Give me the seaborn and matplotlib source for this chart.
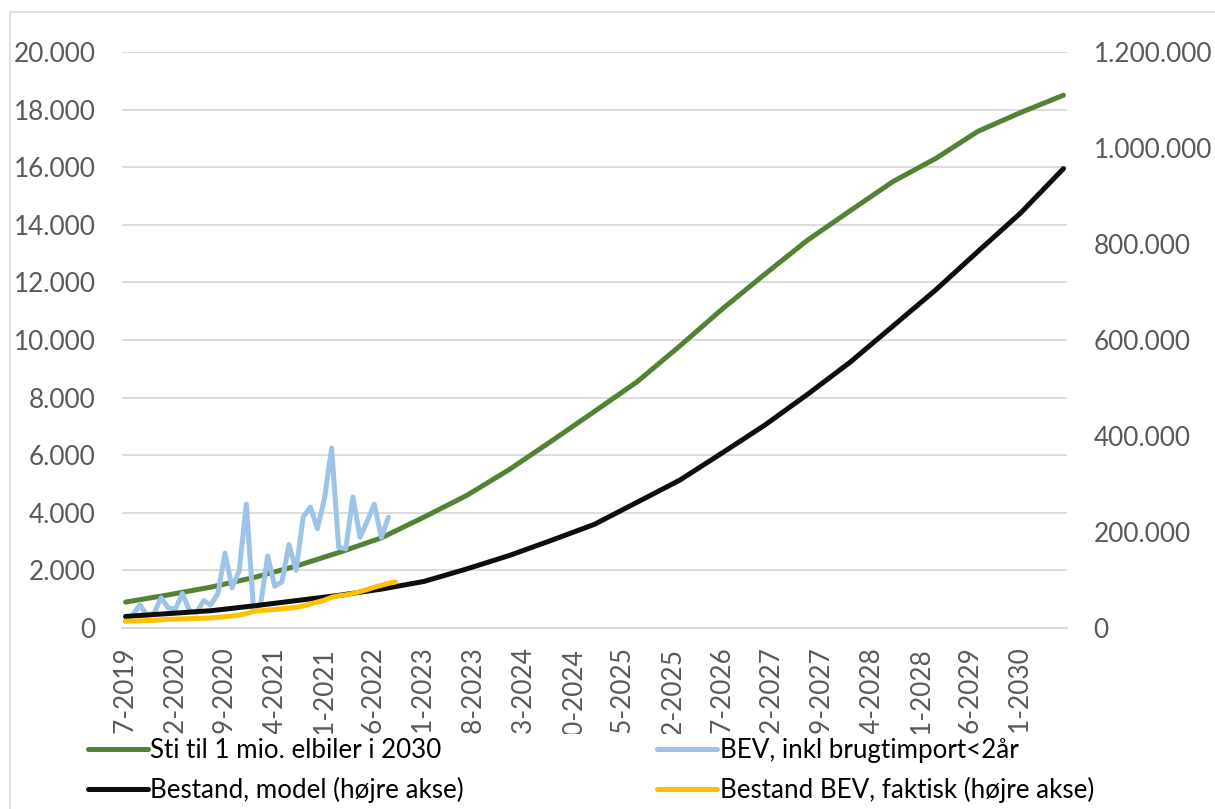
import numpy as np
import pandas as pd
import matplotlib
matplotlib.use("Agg")
import matplotlib.pyplot as plt
import seaborn as sns
from matplotlib.ticker import FuncFormatter, FixedLocator, MultipleLocator
from matplotlib.patches import Rectangle
from matplotlib.lines import Line2D
from matplotlib.transforms import Bbox, TransformedBbox

# ---------------- data ----------------
start_year, start_month, n_months = 2019, 7, 133
categories = [f"{(start_month - 1 + i) % 12 + 1:02d}-{start_year + (start_month - 1 + i) // 12}"
              for i in range(n_months)]

# Sti til 1 mio. elbiler i 2030 (left axis)
path_dates = ["07-2019", "01-2020", "07-2020", "01-2021", "07-2021", "01-2022", "07-2022",
              "01-2023", "07-2023", "01-2024", "07-2024", "01-2025", "07-2025", "01-2026",
              "07-2026", "01-2027", "07-2027", "01-2028", "07-2028", "01-2029", "07-2029",
              "01-2030", "07-2030"]
path_values = [900, 1150, 1420, 1750, 2150, 2620, 3130, 3850, 4600, 5500, 6500, 7520, 8550,
               9790, 11080, 12290, 13470, 14490, 15500, 16300, 17250, 17900, 18500]

# BEV, inkl brugtimport<2år (left axis), monthly from 07-2019
bev_values = [250, 450, 800, 450, 500, 1050, 700, 650, 1200, 600, 550, 950, 800, 1200,
              2600, 1400, 2000, 4300, 700, 800, 2500, 1450, 1600, 2900, 2000, 3850, 4200,
              3450, 4500, 6250, 2800, 2750, 4550, 3150, 3700, 4300, 3150, 3850]

# Bestand, model (right axis)
model_dates = path_dates
model_values = [24000, 30000, 36000, 46000, 57000, 68000, 81000, 97000, 123000, 151000,
                183000, 216000, 262000, 308000, 365000, 423000, 487000, 554000, 629000,
                704000, 785000, 865000, 957000]

# Bestand BEV, faktisk (right axis), monthly from 07-2019
actual_values = [14000, 14500, 15000, 15500, 16000, 17000, 18000, 18500, 19000, 19500,
                 20000, 20500, 21000, 22000, 23500, 25000, 27000, 30000, 35000, 36000,
                 37500, 38500, 40000, 41500, 43000, 46000, 50000, 54000, 58000, 64000,
                 67000, 69000, 72000, 76000, 80000, 85000, 89000, 93000, 96000]

labels = ["Sti til 1 mio. elbiler i 2030", "BEV, inkl brugtimport<2år",
          "Bestand, model (højre akse)", "Bestand BEV, faktisk (højre akse)"]

# ---------------- style ----------------
sns.set_theme(style="white")
plt.rcParams["font.family"] = ["Lato", "DejaVu Sans"]

GREEN, BLUE, BLACK, YELLOW = "#548235", "#9DC3E6", "#0D0D0D", "#FFC000"
GRID = "#D9D9D9"
TICKC = "#595959"
FS = 18.8
LFS = 18.7
LW = 3.6

W, H = 1215, 809
fig = plt.figure(figsize=(W / 100, H / 100), dpi=100)
fig.patch.set_facecolor("white")
L, R, T, B = 122, 1067, 52, 628
ax = fig.add_axes([L / W, 1 - B / H, (R - L) / W, (B - T) / H])
ax2 = ax.twinx()

idx = {c: i for i, c in enumerate(categories)}
df_path = pd.DataFrame({"m": [idx[d] for d in path_dates], "v": path_values})
df_bev = pd.DataFrame({"m": range(len(bev_values)), "v": bev_values})
df_model = pd.DataFrame({"m": [idx[d] for d in model_dates], "v": model_values})
df_act = pd.DataFrame({"m": range(len(actual_values)), "v": actual_values})

kw = dict(legend=False, solid_capstyle="round", solid_joinstyle="round")
sns.lineplot(data=df_path, x="m", y="v", ax=ax, color=GREEN, lw=LW, zorder=3, **kw)
sns.lineplot(data=df_bev, x="m", y="v", ax=ax, color=BLUE, lw=LW, zorder=4, **kw)
sns.lineplot(data=df_model, x="m", y="v", ax=ax2, color=BLACK, lw=LW, zorder=3, **kw)
sns.lineplot(data=df_act, x="m", y="v", ax=ax2, color=YELLOW, lw=LW, zorder=4, **kw)

fmt = FuncFormatter(lambda v, p: f"{int(round(v)):,}".replace(",", "."))
ax.set_xlim(-0.5, n_months - 0.5)
ax.set_ylim(0, 20000)
ax2.set_ylim(0, 1200000)
ax.yaxis.set_major_locator(MultipleLocator(2000))
ax2.yaxis.set_major_locator(MultipleLocator(200000))
ax.yaxis.set_major_formatter(fmt)
ax2.yaxis.set_major_formatter(fmt)

tick_pos = list(range(0, n_months, 7))
ax.xaxis.set_major_locator(FixedLocator(tick_pos))
ax.set_xticklabels([categories[i] for i in tick_pos], rotation=90)
ax.xaxis.set_minor_locator(FixedLocator([p - 0.5 for p in tick_pos] + [n_months - 0.5]))
ax.tick_params(axis="x", which="major", length=0, pad=14, labelsize=FS, labelcolor=TICKC)
ax.tick_params(axis="x", which="minor", length=6, width=1.3, color=GRID, direction="out")
ax.tick_params(axis="y", length=0, pad=19, labelsize=FS, labelcolor=TICKC)
ax2.tick_params(axis="y", length=0, pad=19, labelsize=FS, labelcolor=TICKC)
for a in (ax, ax2):
    a.set_xlabel("")
    a.set_ylabel("")
    for s in ("left", "right", "top", "bottom"):
        a.spines[s].set_visible(False)
ax.spines["bottom"].set_visible(True)
ax.spines["bottom"].set_color(GRID)
ax.spines["bottom"].set_linewidth(1.3)
ax.yaxis.grid(True, color=GRID, lw=1.3)
ax.xaxis.grid(False)
ax.set_axisbelow(True)
ax.patch.set_visible(False)
ax2.patch.set_visible(False)

# x labels are cut off by the legend area, as in the original chart
clip = TransformedBbox(Bbox([[0, 1 - 734 / H], [1, 1]]), fig.transFigure)
for t in ax.get_xticklabels():
    t.set_clip_on(True)
    t.set_clip_box(clip)
fig.add_artist(Rectangle((11 / W, 0), 1, 1 - 734 / H, transform=fig.transFigure,
                         facecolor="white", edgecolor="none", zorder=2))
# chart border
fig.add_artist(Line2D([10 / W, 10 / W], [0, 1 - 12 / H], transform=fig.transFigure,
                      color=GRID, lw=1.2, zorder=6))
fig.add_artist(Line2D([10 / W, 1], [1 - 12 / H, 1 - 12 / H], transform=fig.transFigure,
                      color=GRID, lw=1.2, zorder=6))

handles = [Line2D([], [], color=c, lw=LW, solid_capstyle="round") for c in (GREEN, BLACK, BLUE, YELLOW)]
leg_labels = [labels[0], labels[2], labels[1], labels[3]]
leg = fig.legend(handles, leg_labels, ncol=2, loc="upper left",
                 bbox_to_anchor=(88 / W, 1 - 738 / H), frameon=False,
                 fontsize=LFS, handlelength=2.3, handletextpad=0.1,
                 columnspacing=7.45, labelspacing=0.52, borderpad=0, borderaxespad=0)
leg.set_zorder(5)
for t in leg.get_texts():
    t.set_color("black")

fig.savefig("out.png", dpi=100, facecolor="white")
